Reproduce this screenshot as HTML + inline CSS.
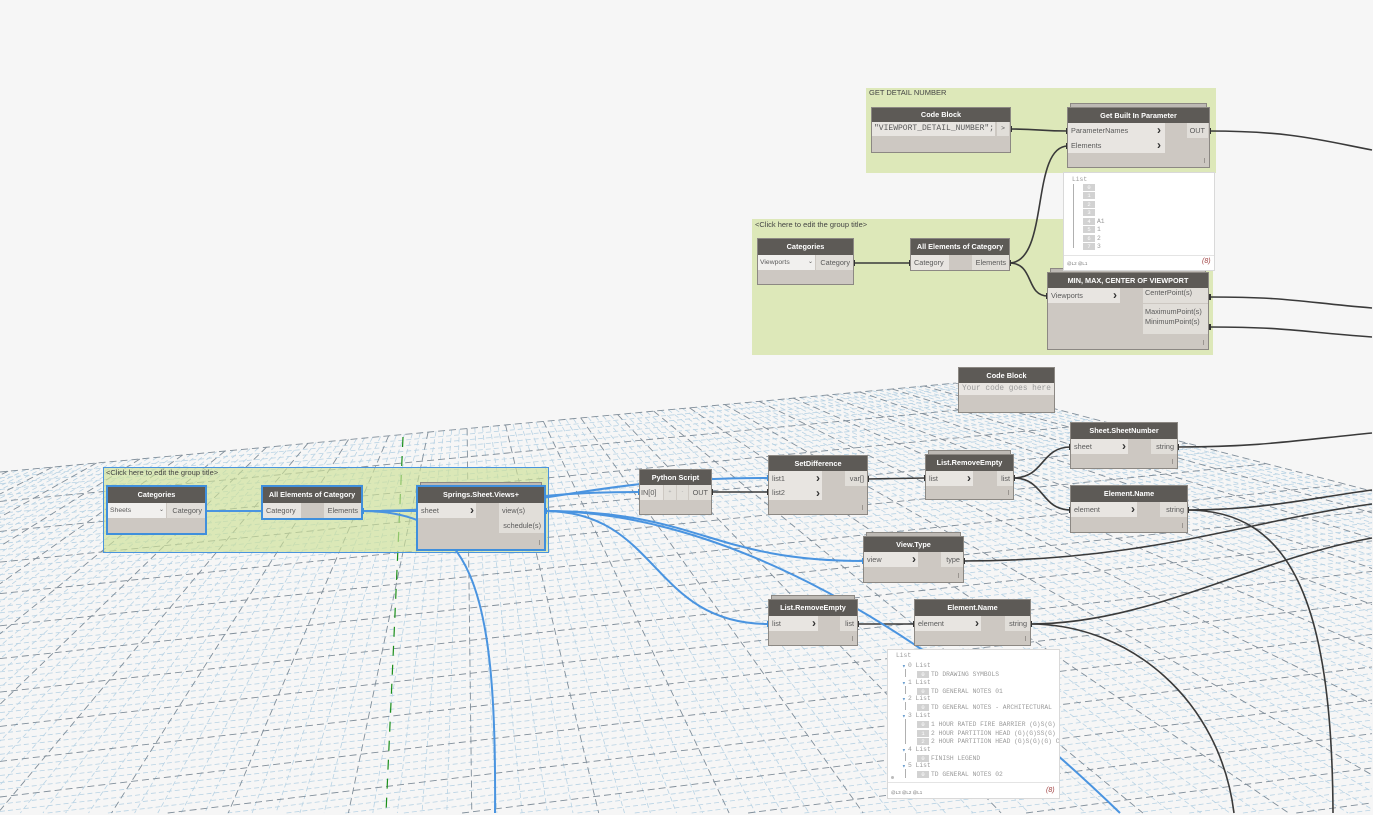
<!DOCTYPE html>
<html><head><meta charset="utf-8"><style>
*{box-sizing:border-box}
html{width:1373px;height:815px;overflow:hidden}
body{margin:0;width:1373px;height:815px;overflow:hidden;background:#f6f6f6;position:relative;font-family:"Liberation Sans",Arial,sans-serif}
svg{position:absolute;left:0;top:0;overflow:hidden}
.g{position:absolute;background:#dde8b9;z-index:1}
.gt{position:absolute;font-size:7.5px;color:#444;white-space:nowrap;line-height:9px;z-index:1}
.n{position:absolute;background:#cdc8c2;box-shadow:0 0 0 1px #8c8883;z-index:3}
.sel{box-shadow:0 0 0 2px #3f8fdc}
.h{position:absolute;left:0;right:0;top:0;background:#5d5a56;color:#fff;font-weight:bold;font-size:7.3px;text-align:center;white-space:nowrap;overflow:hidden}
.i,.o,.d{position:absolute;color:#5a5a5a;font-size:7.3px;white-space:nowrap;height:15px;line-height:15px;overflow:hidden}
.i{background:#e8e5e1;padding-left:3px}
.o{background:#e1ded9;padding-right:3px;text-align:right}
.d{background:#f1f0ee;padding-left:2px;font-size:6.8px}
.c{position:absolute;font-weight:bold;color:#333;font-size:12px;line-height:14px}
.k{position:absolute;width:1px;height:5px;background:#9a9590;right:4px;bottom:4px}
.st{position:absolute;height:4px;background:#bdb9b4;box-shadow:0 0 0 1px #8c8883;z-index:3}
.w{position:absolute;background:#fff;border:1px solid #d9d9d9;z-index:4;font-family:"Liberation Mono","DejaVu Sans Mono",monospace;color:#9a9a9a;font-size:6.3px;overflow:hidden}
.w div{position:absolute;white-space:nowrap;line-height:7px}
.ix{background:#d2d2d2;color:#fff;width:12px;height:7px;text-align:center;font-size:5.5px}
.tl{background:#b0b0b0;width:1px}
.tri{color:#5b93c9}
</style></head><body>

<svg id="grid" width="1373" height="815" viewBox="0 0 1373 815" style="z-index:0"></svg>

<!-- groups -->
<div class="g" style="left:866px;top:88px;width:350px;height:85px"></div>
<div class="gt" style="left:869px;top:88px">GET DETAIL NUMBER</div>
<div class="g" style="left:752px;top:219px;width:461px;height:136px"></div>
<div class="gt" style="left:755px;top:220px">&lt;Click here to edit the group title&gt;</div>
<div class="g" style="left:103px;top:467px;width:446px;height:86px;background:rgba(205,225,150,0.66);border:1px solid #4a94dd"></div>
<div class="gt" style="left:106px;top:468px">&lt;Click here to edit the group title&gt;</div>

<!-- wires -->
<svg width="1373" height="815" viewBox="0 0 1373 815" style="z-index:2">
<g fill="none" stroke="#3a3a3a" stroke-width="1.6">
<path d="M1010,129 C1040,129 1040,131 1068,131"/>
<path d="M1009,263 C1050,263 1030,146 1068,146"/>
<path d="M853,263 L911,263"/>
<path d="M1009,263 C1035,263 1025,296 1048,296"/>
<path d="M1209,131 C1290,131 1320,140 1372,150"/>
<path d="M1209,297 C1290,297 1300,302 1372,308"/>
<path d="M1209,327 C1290,327 1300,332 1372,337"/>
<path d="M1177,447 C1260,447 1300,440 1372,433"/>
<path d="M1187,510 C1260,510 1300,500 1372,490"/>
<path d="M1187,510 C1290,510 1332,600 1333,813"/>
<path d="M963,561 C1150,561 1250,520 1372,504"/>
<path d="M1030,624 C1150,624 1250,560 1372,538"/>
<path d="M1030,624 C1130,624 1220,700 1234,813"/>
<path d="M711,492 L769,492"/>
<path d="M867,479 L926,478"/>
<path d="M1013,478 C1045,478 1040,447 1071,447"/>
<path d="M1013,478 C1045,478 1040,510 1071,510"/>
<path d="M857,624 L915,624"/>
</g>
<g fill="none" stroke="#4a94e0" stroke-width="2">
<path d="M204,511 L263,511"/>
<path d="M361,511 L418,511"/>
<path d="M361,511 C500,511 500,492 640,492"/>
<path d="M361,511 C560,511 570,478 769,478"/>
<path d="M361,511 C470,511 497,580 495,813"/>
<path d="M544,511 C700,511 710,561 864,561"/>
<path d="M544,511 C660,511 650,624 769,624"/>
<path d="M544,511 C700,511 900,600 1120,813"/>
</g>
<g fill="#333">
<rect x="1009" y="126" width="3" height="6"/><rect x="1008" y="260" width="3" height="6"/><rect x="852" y="260" width="3" height="6"/>
<rect x="1208" y="128" width="3" height="6"/><rect x="1208" y="294" width="3" height="6"/><rect x="1208" y="324" width="3" height="6"/>
<rect x="1176" y="444" width="3" height="6"/><rect x="1186" y="507" width="3" height="6"/><rect x="962" y="558" width="3" height="6"/>
<rect x="1029" y="621" width="3" height="6"/><rect x="710" y="489" width="3" height="6"/><rect x="866" y="476" width="3" height="6"/>
<rect x="1012" y="475" width="3" height="6"/><rect x="856" y="621" width="3" height="6"/>
<rect x="1066" y="128" width="3" height="6"/><rect x="1066" y="143" width="3" height="6"/><rect x="909" y="260" width="3" height="6"/>
<rect x="1046" y="293" width="3" height="6"/><rect x="767" y="489" width="3" height="6"/><rect x="924" y="475" width="3" height="6"/>
<rect x="1069" y="444" width="3" height="6"/><rect x="1069" y="507" width="3" height="6"/><rect x="913" y="621" width="3" height="6"/>
</g>
<g fill="#3f8fdc">
<rect x="204" y="508" width="3" height="6"/><rect x="361" y="508" width="3" height="6"/><rect x="544" y="508" width="3" height="6"/>
<rect x="261" y="508" width="3" height="6"/><rect x="416" y="508" width="3" height="6"/><rect x="638" y="489" width="3" height="6"/>
<rect x="767" y="475" width="3" height="6"/><rect x="862" y="558" width="3" height="6"/><rect x="767" y="621" width="3" height="6"/>
</g>
</svg>

<!-- Code Block top -->
<div class="n" style="left:872px;top:108px;width:138px;height:44px">
<div class="h" style="height:14px;line-height:14px">Code Block</div>
<div class="i" style="left:0;top:14px;width:123px;height:14px;line-height:14px;font-family:'Liberation Mono',monospace;font-size:8px;padding-left:2px">"VIEWPORT_DETAIL_NUMBER";</div>
<div class="o" style="left:125px;top:14px;width:12px;height:14px;line-height:14px;text-align:center;padding:0;font-size:6.5px">&gt;</div>
</div>

<!-- Get Built In Parameter -->
<div class="st" style="left:1071px;top:104px;width:135px"></div>
<div class="n" style="left:1068px;top:108px;width:141px;height:59px">
<div class="h" style="height:15px;line-height:15px">Get Built In Parameter</div>
<div class="i" style="left:0;top:15px;width:97px">ParameterNames</div><div class="c" style="left:89px;top:15px">›</div>
<div class="i" style="left:0;top:30px;width:97px">Elements</div><div class="c" style="left:89px;top:30px">›</div>
<div class="o" style="left:119px;top:15px;width:21px">OUT</div>
<div class="k"></div>
</div>

<!-- Watch top -->
<div class="w" style="left:1063px;top:172px;width:152px;height:99px">
<div style="left:8px;top:3px">List</div>
<div class="tl" style="left:9px;top:11px;height:64px"></div>
<div class="ix" style="left:19px;top:11px">0</div>
<div class="ix" style="left:19px;top:19px">1</div>
<div class="ix" style="left:19px;top:28px">2</div>
<div class="ix" style="left:19px;top:36px">3</div>
<div class="ix" style="left:19px;top:45px">4</div><div style="left:33px;top:45px">A1</div>
<div class="ix" style="left:19px;top:53px">5</div><div style="left:33px;top:53px">1</div>
<div class="ix" style="left:19px;top:62px">6</div><div style="left:33px;top:62px">2</div>
<div class="ix" style="left:19px;top:70px">7</div><div style="left:33px;top:70px">3</div>
<div style="left:0;top:82px;width:150px;height:1px;background:#e4e4e4"></div>
<div style="left:3px;top:87px;font-size:4.5px;color:#777;font-family:'Liberation Sans',sans-serif">@L2 @L1</div>
<div style="left:138px;top:85px;font-size:7px;color:#a04040;font-style:italic;font-family:'Liberation Sans',sans-serif">(8)</div>
</div>

<!-- Categories mid -->
<div class="n" style="left:758px;top:239px;width:95px;height:45px">
<div class="h" style="height:16px;line-height:16px">Categories</div>
<div class="d" style="left:0;top:16px;width:57px">Viewports<span style="position:absolute;left:50px;font-size:6px">⌄</span></div>
<div class="o" style="left:58px;top:16px;width:37px">Category</div>
</div>

<!-- All Elements mid -->
<div class="n" style="left:911px;top:239px;width:98px;height:31px">
<div class="h" style="height:16px;line-height:16px">All Elements of Category</div>
<div class="i" style="left:0;top:16px;width:38px">Category</div>
<div class="o" style="left:61px;top:16px;width:37px">Elements</div>
</div>

<!-- MIN MAX -->
<div class="st" style="left:1051px;top:269px;width:154px"></div>
<div class="n" style="left:1048px;top:273px;width:160px;height:76px">
<div class="h" style="height:15px;line-height:15px">MIN, MAX, CENTER OF VIEWPORT</div>
<div class="i" style="left:0;top:15px;width:72px">Viewports</div><div class="c" style="left:65px;top:15px">›</div>
<div class="o" style="left:95px;top:15px;width:65px;line-height:9px;text-align:left;padding-left:2px">CenterPoint(s)</div>
<div class="o" style="left:95px;top:31px;width:65px;height:30px;line-height:10px;text-align:left;padding:3px 0 0 2px">MaximumPoint(s)<br>MinimumPoint(s)</div>
<div class="k"></div>
</div>

<!-- Code Block mid -->
<div class="n" style="left:959px;top:368px;width:95px;height:44px">
<div class="h" style="height:15px;line-height:15px">Code Block</div>
<div class="i" style="left:0;top:15px;width:95px;height:12px;line-height:12px;font-family:'Liberation Mono',monospace;font-size:7.8px;color:#9a9a9a;padding-left:3px">Your code goes here</div>
</div>

<!-- Sheet.SheetNumber -->
<div class="n" style="left:1071px;top:423px;width:106px;height:45px">
<div class="h" style="height:16px;line-height:16px">Sheet.SheetNumber</div>
<div class="i" style="left:0;top:16px;width:57px">sheet</div><div class="c" style="left:51px;top:16px">›</div>
<div class="o" style="left:80px;top:16px;width:26px">string</div>
<div class="k"></div>
</div>

<!-- Element.Name upper -->
<div class="n" style="left:1071px;top:486px;width:116px;height:46px">
<div class="h" style="height:16px;line-height:16px">Element.Name</div>
<div class="i" style="left:0;top:16px;width:66px">element</div><div class="c" style="left:60px;top:16px">›</div>
<div class="o" style="left:89px;top:16px;width:27px">string</div>
<div class="k"></div>
</div>

<!-- List.RemoveEmpty upper -->
<div class="st" style="left:929px;top:451px;width:81px"></div>
<div class="n" style="left:926px;top:455px;width:87px;height:44px">
<div class="h" style="height:16px;line-height:16px">List.RemoveEmpty</div>
<div class="i" style="left:0;top:16px;width:47px">list</div><div class="c" style="left:41px;top:16px">›</div>
<div class="o" style="left:71px;top:16px;width:16px">list</div>
<div class="k"></div>
</div>

<!-- SetDifference -->
<div class="n" style="left:769px;top:456px;width:98px;height:58px">
<div class="h" style="height:15px;line-height:15px">SetDifference</div>
<div class="i" style="left:0;top:15px;width:53px">list1</div><div class="c" style="left:47px;top:15px">›</div>
<div class="i" style="left:0;top:30px;width:53px;height:14px;line-height:14px">list2</div><div class="c" style="left:47px;top:30px">›</div>
<div class="o" style="left:76px;top:15px;width:22px">var[]</div>
<div class="k"></div>
</div>

<!-- Python Script -->
<div class="n" style="left:640px;top:470px;width:71px;height:44px">
<div class="h" style="height:15px;line-height:15px">Python Script</div>
<div class="i" style="left:0;top:15px;width:23px;padding-left:1px">IN[0]</div>
<div class="o" style="left:24px;top:15px;width:12px;text-align:center;padding:0;font-size:5px;color:#aaa">+</div>
<div class="o" style="left:37px;top:15px;width:11px;text-align:center;padding:0;font-size:5px;color:#aaa">-</div>
<div class="o" style="left:49px;top:15px;width:22px">OUT</div>
</div>

<!-- Categories left -->
<div class="n sel" style="left:108px;top:487px;width:97px;height:46px">
<div class="h" style="height:16px;line-height:16px">Categories</div>
<div class="d" style="left:0;top:16px;width:58px">Sheets<span style="position:absolute;left:51px;font-size:6px">⌄</span></div>
<div class="o" style="left:59px;top:16px;width:38px">Category</div>
</div>

<!-- All Elements left -->
<div class="n sel" style="left:263px;top:487px;width:98px;height:31px">
<div class="h" style="height:16px;line-height:16px">All Elements of Category</div>
<div class="i" style="left:0;top:16px;width:38px">Category</div>
<div class="o" style="left:61px;top:16px;width:37px">Elements</div>
</div>

<!-- Springs -->
<div class="st" style="left:421px;top:483px;width:120px"></div>
<div class="n sel" style="left:418px;top:487px;width:126px;height:62px">
<div class="h" style="height:16px;line-height:16px">Springs.Sheet.Views+</div>
<div class="i" style="left:0;top:16px;width:58px">sheet</div><div class="c" style="left:52px;top:16px">›</div>
<div class="o" style="left:81px;top:16px;width:45px;text-align:left;padding-left:3px">view(s)</div>
<div class="o" style="left:81px;top:31px;width:45px">schedule(s)</div>
<div class="k"></div>
</div>

<!-- View.Type -->
<div class="st" style="left:867px;top:533px;width:93px"></div>
<div class="n" style="left:864px;top:537px;width:99px;height:45px">
<div class="h" style="height:15px;line-height:15px">View.Type</div>
<div class="i" style="left:0;top:15px;width:54px">view</div><div class="c" style="left:48px;top:15px">›</div>
<div class="o" style="left:77px;top:15px;width:22px">type</div>
<div class="k"></div>
</div>

<!-- List.RemoveEmpty lower -->
<div class="st" style="left:772px;top:596px;width:82px"></div>
<div class="n" style="left:769px;top:600px;width:88px;height:45px">
<div class="h" style="height:16px;line-height:16px">List.RemoveEmpty</div>
<div class="i" style="left:0;top:16px;width:49px">list</div><div class="c" style="left:43px;top:16px">›</div>
<div class="o" style="left:71px;top:16px;width:17px">list</div>
<div class="k"></div>
</div>

<!-- Element.Name lower -->
<div class="n" style="left:915px;top:600px;width:115px;height:45px">
<div class="h" style="height:16px;line-height:16px">Element.Name</div>
<div class="i" style="left:0;top:16px;width:66px">element</div><div class="c" style="left:60px;top:16px">›</div>
<div class="o" style="left:90px;top:16px;width:25px">string</div>
<div class="k"></div>
</div>

<!-- Watch lower -->
<div class="w" style="left:887px;top:649px;width:173px;height:150px">
<div style="left:8px;top:2px">List</div>
<div class="tri" style="left:14px;top:13px">▾</div><div style="left:20px;top:12px">0 List</div>
<div class="tl" style="left:17px;top:19px;height:8px"></div>
<div class="ix" style="left:29px;top:21px">0</div><div style="left:43px;top:21px">TD DRAWING SYMBOLS</div>
<div class="tri" style="left:14px;top:30px">▾</div><div style="left:20px;top:29px">1 List</div>
<div class="tl" style="left:17px;top:36px;height:8px"></div>
<div class="ix" style="left:29px;top:38px">0</div><div style="left:43px;top:38px">TD GENERAL NOTES 01</div>
<div class="tri" style="left:14px;top:46px">▾</div><div style="left:20px;top:45px">2 List</div>
<div class="tl" style="left:17px;top:52px;height:8px"></div>
<div class="ix" style="left:29px;top:54px">0</div><div style="left:43px;top:54px">TD GENERAL NOTES - ARCHITECTURAL</div>
<div class="tri" style="left:14px;top:63px">▾</div><div style="left:20px;top:62px">3 List</div>
<div class="tl" style="left:17px;top:69px;height:25px"></div>
<div class="ix" style="left:29px;top:71px">0</div><div style="left:43px;top:71px">1 HOUR RATED FIRE BARRIER (G)S(G)</div>
<div class="ix" style="left:29px;top:80px">1</div><div style="left:43px;top:80px">2 HOUR PARTITION HEAD (G)(G)SS(G)</div>
<div class="ix" style="left:29px;top:88px">2</div><div style="left:43px;top:88px">2 HOUR PARTITION HEAD (G)S(G)(G) C</div>
<div class="tri" style="left:14px;top:97px">▾</div><div style="left:20px;top:96px">4 List</div>
<div class="tl" style="left:17px;top:103px;height:8px"></div>
<div class="ix" style="left:29px;top:105px">0</div><div style="left:43px;top:105px">FINISH LEGEND</div>
<div class="tri" style="left:14px;top:113px">▾</div><div style="left:20px;top:112px">5 List</div>
<div class="tl" style="left:17px;top:119px;height:9px"></div>
<div class="ix" style="left:29px;top:121px">0</div><div style="left:43px;top:121px">TD GENERAL NOTES 02</div>
<div style="left:3px;top:126px;width:3px;height:3px;background:#bbb;border-radius:2px"></div>
<div style="left:0;top:132px;width:171px;height:1px;background:#e4e4e4"></div>
<div style="left:3px;top:139px;font-size:4.5px;color:#777;font-family:'Liberation Sans',sans-serif">@L3 @L2 @L1</div>
<div style="left:158px;top:137px;font-size:7px;color:#a04040;font-style:italic;font-family:'Liberation Sans',sans-serif">(8)</div>
</div>

<script>
(function(){
var s=document.getElementById('grid');var NS='http://www.w3.org/2000/svg';
var O=[955,383],V1=[12770,-716],V2=[465,256];
var W=1372,H=813;
function clip(p,q){
 var x0=p[0],y0=p[1],dx=q[0]-x0,dy=q[1]-y0,t0=0,t1=1;
 var P=[-dx,dx,-dy,dy],Q=[x0-0,W-x0,y0-0,H-y0];
 for(var i=0;i<4;i++){
  if(P[i]===0){if(Q[i]<0)return null;}
  else{var r=Q[i]/P[i];if(P[i]<0){if(r>t1)return null;if(r>t0)t0=r;}else{if(r<t0)return null;if(r<t1)t1=r;}}
 }
 return [[x0+t0*dx,y0+t0*dy],[x0+t1*dx,y0+t1*dy]];
}
function L(p,q,mj){var c=clip(p,q);if(!c)return;p=c[0];q=c[1];
var l=document.createElementNS(NS,'line');
l.setAttribute('x1',p[0].toFixed(1));l.setAttribute('y1',p[1].toFixed(1));
l.setAttribute('x2',q[0].toFixed(1));l.setAttribute('y2',q[1].toFixed(1));
l.setAttribute('stroke',mj?'#808e9a':'#b9d3e4');l.setAttribute('stroke-width',mj?'0.9':'0.8');
l.setAttribute('stroke-dasharray',mj?'7,4':'5,3');s.appendChild(l);}
var re=(O[1]-V2[1])/(O[0]-V2[0]);
var minor=[],major=[];
var k;
for(k=0;k<=90;k++){
 var y0=472+5.8*k+0.014*k*k;
 var m=(V1[1]-y0)/V1[0];
 var xe=(y0-O[1]+re*O[0])/(re-m);
 var seg=[[0,y0],[xe,y0+m*xe]];
 (k%5==0?major:minor).push(seg);
}
var fs=(383-472)/955;
for(k=0;k<=160;k++){
 var xf=955-(6.2*k+0.011*k*k); if(xf<-30)break;
 var yf=472+fs*xf;
 var dx=xf-V2[0],dy=yf-V2[1];var t=(900-yf)/dy;
 var seg2=[[xf,yf],[xf+dx*t,900]];
 (k%5==0?major:minor).push(seg2);
}
minor.forEach(function(a){L(a[0],a[1],false);});
major.forEach(function(a){L(a[0],a[1],true);});
var g=document.createElementNS(NS,'line');g.setAttribute('x1','403');g.setAttribute('y1','437');g.setAttribute('x2','386');g.setAttribute('y2','813');
g.setAttribute('stroke','#1a8f1a');g.setAttribute('stroke-width','1.2');g.setAttribute('stroke-dasharray','10,9');s.appendChild(g);
})();
</script>
</body></html>
